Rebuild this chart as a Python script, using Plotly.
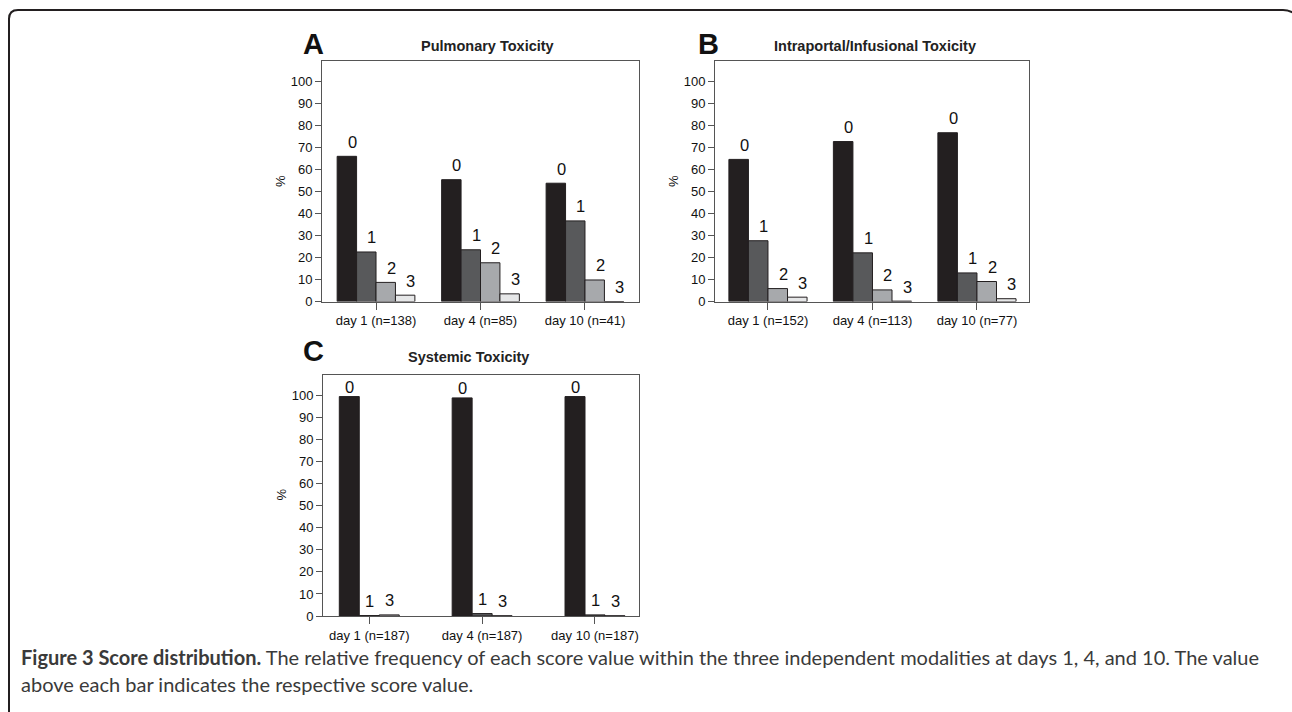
import plotly.graph_objects as go

W, H = 1292, 712

# ---------------- data ----------------
score_names_4 = ["0", "1", "2", "3"]
score_names_3 = ["0", "1", "3"]

days_A = ["day 1 (n=138)", "day 4 (n=85)", "day 10 (n=41)"]
pulm_score0 = [65.9, 55.3, 53.7]
pulm_score1 = [22.5, 23.5, 36.6]
pulm_score2 = [8.7, 17.6, 9.8]
pulm_score3 = [2.9, 3.5, 0.0]

days_B = ["day 1 (n=152)", "day 4 (n=113)", "day 10 (n=77)"]
intra_score0 = [64.5, 72.6, 76.6]
intra_score1 = [27.6, 22.1, 13.0]
intra_score2 = [5.9, 5.3, 9.1]
intra_score3 = [2.0, 0.2, 1.3]

days_C = ["day 1 (n=187)", "day 4 (n=187)", "day 10 (n=187)"]
sys_score0 = [99.5, 98.9, 99.5]
sys_score1 = [0.2, 1.1, 0.5]
sys_score3 = [0.5, 0.1, 0.1]

y_ticks = list(range(0, 101, 10))

titles = ["Pulmonary Toxicity", "Intraportal/Infusional Toxicity", "Systemic Toxicity"]
panel_letters = ["A", "B", "C"]

caption_bold = "Figure 3 Score distribution."
caption_line1 = (" The relative frequency of each score value within the three independent "
                 "modalities at days 1, 4, and 10. The value")
caption_line2 = "above each bar indicates the respective score value."

# ---------------- styles ----------------
fills4 = ["#231f20", "#58595b", "#a7a9ac", "#e6e7e8"]
fills3 = ["#231f20", "#58595b", "#e6e7e8"]
FONT = "Liberation Sans, Arial, sans-serif"


def X(px):
    return px / W


def Y(py):
    return 1 - py / H


panels = [
    dict(days=days_A, series=[pulm_score0, pulm_score1, pulm_score2, pulm_score3],
         names=score_names_4, fills=fills4,
         xdom=(322, 639), ydom=(62, 305), xr=(-0.517, 2.517), yr=(0, 109.0), bw=0.186,
         xshift=5.5, title_xy=(487, 47), letter_xy=(313, 45), ytitle_xy=(281, 183)),
    dict(days=days_B, series=[intra_score0, intra_score1, intra_score2, intra_score3],
         names=score_names_4, fills=fills4,
         xdom=(715, 1029), ydom=(62, 305), xr=(-0.507, 2.498), yr=(0, 109.0), bw=0.187,
         xshift=5.5, title_xy=(875, 47), letter_xy=(708, 45), ytitle_xy=(674, 183)),
    dict(days=days_C, series=[sys_score0, sys_score1, sys_score3],
         names=score_names_3, fills=fills3,
         xdom=(323, 639), ydom=(379, 623), xr=(-0.41, 2.39), yr=(0, 109.4), bw=0.177,
         xshift=0.5, title_xy=(469, 361), letter_xy=(313, 355), ytitle_xy=(281, 500)),
]

fig = go.Figure()
annotations = []
layout_axes = {}

for p_i, p in enumerate(panels):
    sfx = "" if p_i == 0 else str(p_i + 1)
    xa, ya = "x" + sfx, "y" + sfx
    n = len(p["series"])
    bw = p["bw"]
    for k, vals in enumerate(p["series"]):
        off = (k - (n - 1) / 2) * bw
        xs = [i + off for i in range(len(p["days"]))]
        fig.add_trace(go.Bar(
            x=xs, y=vals, width=bw, xaxis=xa, yaxis=ya,
            marker=dict(color=p["fills"][k], line=dict(color="#231f20", width=1)),
            hoverinfo="skip", showlegend=False,
        ))
        for xv, yv in zip(xs, vals):
            gap = -1.5 if yv > 95 else 3.5
            annotations.append(dict(
                x=xv, y=yv, xref=xa, yref=ya, text=p["names"][k], showarrow=False,
                xanchor="center", yanchor="bottom", yshift=gap, xshift=p["xshift"],
                font=dict(family=FONT, size=16.5, color="#111"),
            ))
    layout_axes["xaxis" + sfx] = dict(
        domain=[X(p["xdom"][0]), X(p["xdom"][1])], range=list(p["xr"]),
        anchor=ya, tickvals=[0, 1, 2], ticktext=p["days"], ticks="outside", ticklen=7,
        tickcolor="#555", showline=True, linecolor="#555", linewidth=1, mirror=True,
        showgrid=False, zeroline=False, tickfont=dict(family=FONT, size=13, color="#111"),
        fixedrange=True,
    )
    layout_axes["yaxis" + sfx] = dict(
        domain=[Y(p["ydom"][1]), Y(p["ydom"][0])], range=list(p["yr"]),
        anchor=xa, tickvals=y_ticks, ticks="outside", ticklen=6, tickcolor="#555",
        showline=True, linecolor="#555", linewidth=1, mirror=True, showgrid=False,
        zeroline=False, tickfont=dict(family=FONT, size=13, color="#111"), fixedrange=True,
    )
    tx, ty = p["title_xy"]
    annotations.append(dict(x=X(tx), y=Y(ty), xref="paper", yref="paper", text="<b>" + titles[p_i] + "</b>",
                            showarrow=False, xanchor="center", yanchor="middle",
                            font=dict(family=FONT, size=14.5, color="#222")))
    lx, ly = p["letter_xy"]
    annotations.append(dict(x=X(lx), y=Y(ly), xref="paper", yref="paper", text="<b>" + panel_letters[p_i] + "</b>",
                            showarrow=False, xanchor="center", yanchor="middle",
                            font=dict(family=FONT, size=29, color="#111")))
    yx, yy = p["ytitle_xy"]
    annotations.append(dict(x=X(yx), y=Y(yy), xref="paper", yref="paper", text="%", textangle=-90,
                            showarrow=False, xanchor="center", yanchor="middle",
                            font=dict(family=FONT, size=13, color="#111")))

CAP_FONT = "Lato, Open Sans, sans-serif"
annotations.append(dict(x=X(19), y=Y(679), xref="paper", yref="paper",
                        text="<b>" + caption_bold + "</b>" + caption_line1,
                        showarrow=False, xanchor="left", yanchor="bottom",
                        font=dict(family=CAP_FONT, size=20, color="#3a3a3a")))
annotations.append(dict(x=X(19), y=Y(706), xref="paper", yref="paper",
                        text=caption_line2,
                        showarrow=False, xanchor="left", yanchor="bottom",
                        font=dict(family=CAP_FONT, size=20, color="#3a3a3a")))

border = (f"M {X(9)},{Y(740)} L {X(9)},{Y(19)} Q {X(9)},{Y(10)} {X(18)},{Y(10)} "
          f"L {X(1283)},{Y(10)} Q {X(1292)},{Y(10)} {X(1301)},{Y(19)}")

fig.update_layout(
    width=W, height=H, margin=dict(l=0, r=0, t=0, b=0),
    paper_bgcolor="white", plot_bgcolor="white", barmode="overlay",
    showlegend=False, annotations=annotations,
    shapes=[dict(type="path", path=border, xref="paper", yref="paper",
                 line=dict(color="#231f20", width=2))],
    **layout_axes,
)

fig.write_html(
    "out.html",
    config={"displayModeBar": False},
    post_script="document.body.style.margin='0';document.body.style.overflow='hidden';",
)
